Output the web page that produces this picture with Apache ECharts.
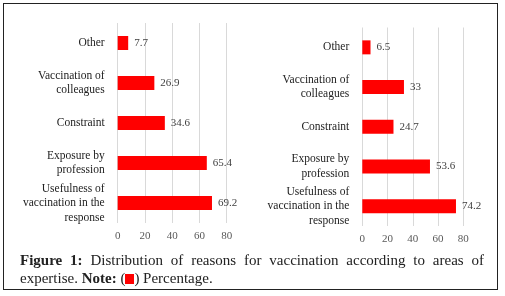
<!DOCTYPE html>
<html>
<head>
<meta charset="utf-8">
<script src="https://cdn.jsdelivr.net/npm/echarts@6/dist/echarts.min.js"></script>
<style>
  html, body { margin: 0; padding: 0; background: #fff; }
  #wrap { position: relative; width: 505px; height: 296px; }
  #frame { position: absolute; left: 3px; top: 3px; width: 495px; height: 287px; border: 1.5px solid #222; box-sizing: border-box; }
  #chart { position: absolute; left: 0; top: 0; width: 505px; height: 245px; }
  #caption {
    position: absolute; left: 20px; top: 251px; width: 464px;
    font-family: "Liberation Serif", "DejaVu Serif", serif; font-size: 15px; line-height: 18px;
    color: #222;
  }
  #caption .l1 { text-align: justify; text-align-last: justify; white-space: nowrap; }
  #caption .l1 { white-space: normal; }
  #caption b { font-weight: bold; }
  .sq { display: inline-block; width: 9px; height: 10px; background: #ff0000; vertical-align: -1px; }
</style>
</head>
<body>
<div id="wrap">
  <div id="chart"></div>
  <div id="frame"></div>
  <div id="caption">
    <div class="l1"><b>Figure 1:</b> Distribution of reasons for vaccination according to areas of</div>
    <div>expertise. <b>Note:</b> (<span class="sq"></span>) Percentage.</div>
  </div>
</div>
<script>
// categories (top to bottom in the picture)
var categories = [
  "Other",
  "Vaccination of\ncolleagues",
  "Constraint",
  "Exposure by\nprofession",
  "Usefulness of\nvaccination in the\nresponse"
];
var leftValues = [7.7, 26.9, 34.6, 65.4, 69.2];
var rightValues = [6.5, 33, 24.7, 53.6, 74.2];
var xTicks = [0, 20, 40, 60, 80];

var serif = '"Liberation Serif", "DejaVu Serif", serif';

function xAxisFor(idx) {
  return {
    gridIndex: idx,
    type: "value",
    min: xTicks[0],
    max: xTicks[xTicks.length - 1],
    interval: 20,
    axisLine: { show: false },
    axisTick: { show: false },
    splitLine: { lineStyle: { color: "#d9d9d9", width: 1 } },
    axisLabel: { color: "#595959", fontSize: 11, fontFamily: serif, margin: 8 }
  };
}
function yAxisFor(idx) {
  return {
    gridIndex: idx,
    type: "category",
    inverse: true,
    data: categories,
    axisLine: { show: false },
    axisTick: { show: false },
    axisLabel: { color: "#222", fontSize: 11.5, fontFamily: serif, lineHeight: 14.5, margin: 13 }
  };
}
function barSeries(idx, vals) {
  return {
    type: "bar",
    xAxisIndex: idx,
    yAxisIndex: idx,
    data: vals,
    barWidth: 14,
    itemStyle: { color: "#ff0000" },
    label: {
      show: true, position: "right", distance: 6,
      color: "#404040", fontSize: 11, fontFamily: serif
    }
  };
}

var chart = echarts.init(document.getElementById("chart"));
chart.setOption({
  animation: false,
  grid: [
    { left: 117.7, top: 23, width: 109, height: 200 },
    { left: 362.3, top: 27.5, width: 101, height: 200 }
  ],
  xAxis: [xAxisFor(0), xAxisFor(1)],
  yAxis: [yAxisFor(0), yAxisFor(1)],
  series: [barSeries(0, leftValues), barSeries(1, rightValues)]
});
</script>
</body>
</html>
